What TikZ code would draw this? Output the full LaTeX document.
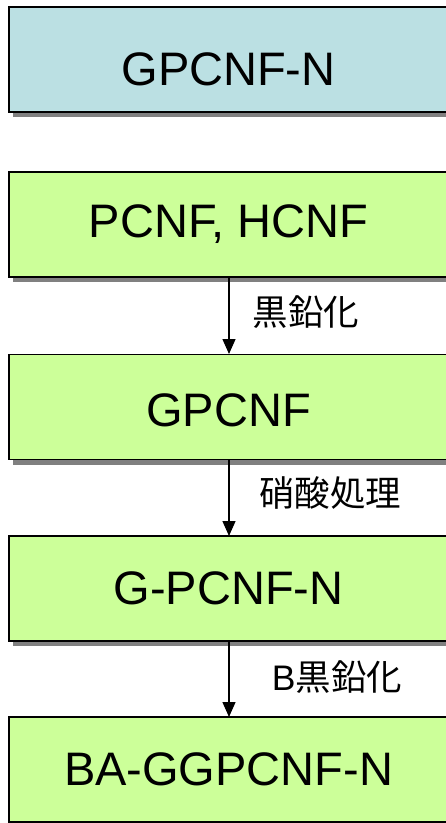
\documentclass[tikz,border=0pt]{standalone}
\usepackage{fontspec}
\setmainfont{Liberation Sans}
\newfontfamily\cjk{Noto Sans CJK JP}
\usetikzlibrary{shadows,arrows.meta}
\definecolor{boxblue}{HTML}{BBE0E3}
\definecolor{boxgreen}{HTML}{CCFF99}
\definecolor{shadowgray}{HTML}{808080}
\begin{document}
\begin{tikzpicture}[x=1pt,y=-1pt,
  stagebox/.style={draw=black,line width=1.5pt,minimum width=439pt,minimum height=105pt,
    inner sep=0pt,font=\fontsize{47}{50}\selectfont,
    drop shadow={shadow xshift=4pt,shadow yshift=-5pt,fill=shadowgray,opacity=1}},
  steplabel/.style={font=\cjk\fontsize{35.5}{38}\selectfont,inner sep=0pt},
  flow/.style={line width=1.3pt,-{Triangle[width=13pt,length=15pt]}}]
\useasboundingbox (0,0) rectangle (446,823);
\node[stagebox,fill=boxblue,text height=52pt,text depth=0pt] (n0) at (228.5,59.5) {GPCNF-N};
\node[stagebox,fill=boxgreen] (n1) at (228.5,224.5) {PCNF, HCNF};
\node[stagebox,fill=boxgreen,text height=38pt,text depth=0pt] (n2) at (228.5,407) {GPCNF};
\node[stagebox,fill=boxgreen] (n3) at (228.5,588.5) {G-PCNF-N};
\node[stagebox,fill=boxgreen] (n4) at (228.5,769.5) {BA-GGPCNF-N};
\coordinate (a1s) at (229,277);
\coordinate (a1e) at (229,354);
\coordinate (a2s) at (229,460);
\coordinate (a2e) at (229,536);
\coordinate (a3s) at (229,641);
\coordinate (a3e) at (229,717);
\draw[flow] (a1s) -- (a1e);
\draw[flow] (a2s) -- (a2e);
\draw[flow] (a3s) -- (a3e);
\node[steplabel] (l1) at (306,312) {黒鉛化};
\node[steplabel] (l2) at (330,493) {硝酸処理};
\node[steplabel] (l3) at (337,677) {{\fontspec{Liberation Sans}B}黒鉛化};
\end{tikzpicture}
\end{document}
